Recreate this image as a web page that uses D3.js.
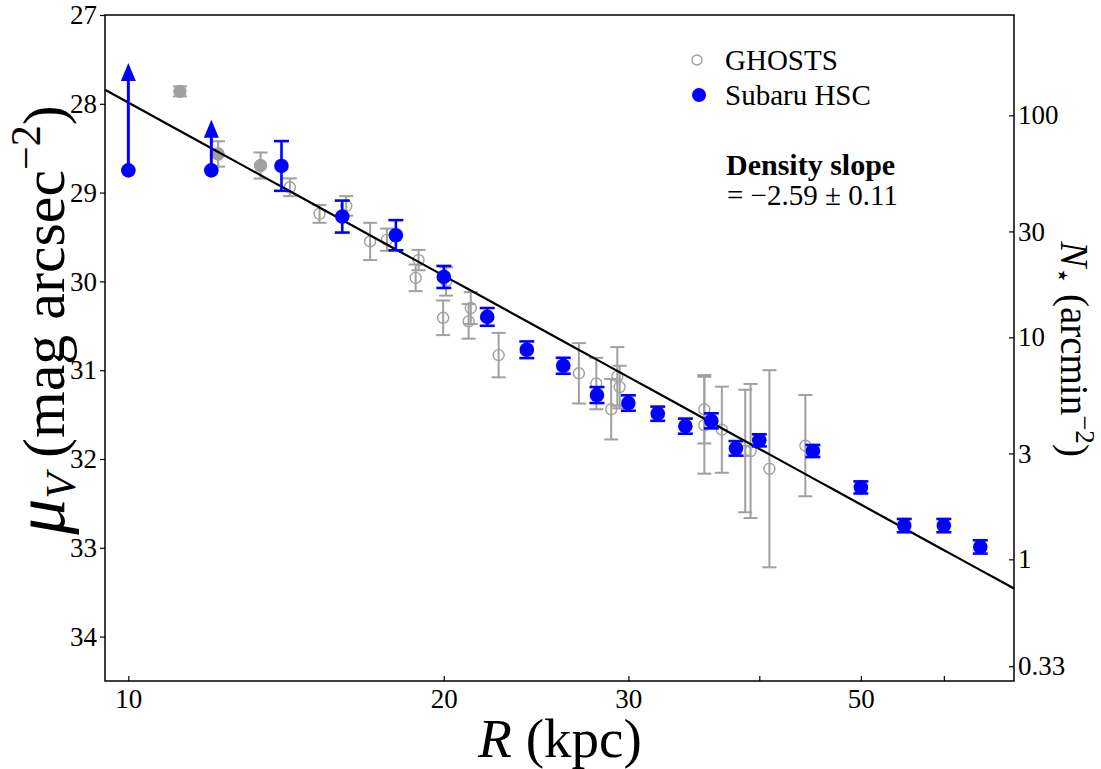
<!DOCTYPE html>
<html>
<head>
<meta charset="utf-8">
<script src="https://cdn.jsdelivr.net/npm/d3@7/dist/d3.min.js"></script>
<style>
body { margin: 0; background: #fff; }
svg text { font-family: "Liberation Serif", "DejaVu Serif", serif; fill: #000; }
</style>
</head>
<body>
<div id="chart"></div>
<script>
// Subaru HSC surface brightness profile (first two are lower limits, drawn as arrows)
var hscR   = [10, 12, 14, 16, 18, 20, 22, 24, 26, 28, 30, 32, 34, 36, 38, 40, 45, 50, 55, 60, 65];
var hscMu  = [28.75, 28.75, 28.70, 29.27, 29.48, 29.95, 30.40, 30.77, 30.95, 31.28, 31.37, 31.49,
              31.63, 31.57, 31.88, 31.79, 31.91, 32.32, 32.75, 32.75, 32.99];
var hscErr = [0, 0, 0.28, 0.18, 0.17, 0.124, 0.10, 0.094, 0.09, 0.09, 0.087, 0.08,
              0.085, 0.085, 0.082, 0.068, 0.068, 0.068, 0.075, 0.075, 0.075];
var hscLimitTop = [27.54, 28.18, null, null, null, null, null, null, null, null, null, null,
                   null, null, null, null, null, null, null, null, null];

// GHOSTS fields (filled = 1 for the three filled grey points)
var ghR      = [11.2, 12.18, 13.37, 14.26, 15.22, 16.14, 17.01, 17.65, 18.92, 18.80, 20.10, 19.97,
                21.22, 21.12, 22.56, 26.91, 27.96, 29.28, 29.43, 28.89, 35.45, 35.45, 36.84,
                38.78, 39.24, 40.90, 44.26];
var ghMu     = [27.86, 28.565, 28.695, 28.94, 29.24, 29.15, 29.55, 29.53, 29.76, 29.96, 30.00, 30.41,
                30.30, 30.45, 30.83, 31.035, 31.15, 31.07, 31.19, 31.44, 31.44, 31.62, 31.67,
                31.91, 31.91, 32.11, 31.85];
var ghErr    = [0.056, 0.143, 0.147, 0.10, 0.10, 0.11, 0.21, 0.125, 0.115, 0.15, 0.16, 0.195,
                0.18, 0.195, 0.25, 0.34, 0.29, 0.33, 0.24, 0.34, 0.385, 0.545, 0.485,
                0.69, 0.755, 1.11, 0.57];
var ghFilled = [1, 1, 1, 0, 0, 0, 0, 0, 0, 0, 0, 0, 0, 0, 0, 0, 0, 0, 0, 0, 0, 0, 0, 0, 0, 0, 0];

// power-law fit
var fitSlope = -2.59;
var fitMu10 = 27.987;

// axes
var muTicks = [27, 28, 29, 30, 31, 32, 33, 34];
var rTicks = [10, 20, 30, 40, 50, 60];
var rLabels = {10: "10", 20: "20", 30: "30", 50: "50"};
var nTicks = [100, 30, 10, 3, 1, 0.33];
var muZero = 33.13;   // mu where N* = 1 arcmin^-2

var W = 1101, H = 769;
var pLeft = 105, pRight = 1014, pTop = 15, pBottom = 681;
var grey = "#a0a0a0", blue = "#0000ff";

var svg = d3.select("#chart").append("svg").attr("width", W).attr("height", H);

var x = d3.scaleLog().domain([9.5, 70]).range([pLeft, pRight]);
var y = d3.scaleLinear().domain([27, 34.5]).range([pTop, pBottom]);
var toN = function(mu){ return Math.pow(10, -0.4 * (mu - muZero)); };
var yN = d3.scaleLog().domain([toN(27), toN(34.5)]).range([pTop, pBottom]);

//---------------------------------------------------------------------
var paintAxes = function(){
    var gl = svg.append("g").attr("transform", "translate(" + pLeft + ",0)")
        .call(d3.axisLeft(y).tickValues(muTicks).tickSize(5).tickPadding(3).tickFormat(d3.format("d")));
    var gb = svg.append("g").attr("transform", "translate(0," + pBottom + ")")
        .call(d3.axisBottom(x).tickValues(rTicks).tickSize(-5).tickPadding(8)
            .tickFormat(function(d){ return rLabels[d] || ""; }));
    var gr = svg.append("g").attr("transform", "translate(" + pRight + ",0)")
        .call(d3.axisRight(yN).tickValues(nTicks).tickSize(-5).tickPadding(4)
            .tickFormat(function(d){ return String(d); }));
    [gl, gb, gr].forEach(function(g){
        g.select(".domain").remove();
        g.attr("font-family", null).attr("font-size", null);
        g.selectAll(".tick line").attr("stroke", "#000").attr("stroke-width", 1.2);
        g.selectAll(".tick text").attr("font-size", 27);
    });

    svg.append("rect").attr("x", pLeft).attr("y", pTop)
        .attr("width", pRight - pLeft).attr("height", pBottom - pTop)
        .attr("fill", "none").attr("stroke", "#000").attr("stroke-width", 1.5);

    // x label
    var xl = svg.append("text").attr("x", 560).attr("y", 757)
        .attr("text-anchor", "middle").attr("font-size", 55);
    xl.append("tspan").attr("font-style", "italic").text("R");
    xl.append("tspan").text(" (kpc)");

    // left label
    var yl = svg.append("text").attr("transform", "translate(64,320) rotate(-90)")
        .attr("text-anchor", "middle").attr("font-size", 60);
    yl.append("tspan").attr("font-style", "italic").attr("font-size", 72).text("μ");
    yl.append("tspan").attr("font-style", "italic").attr("font-size", 42).attr("dy", 11).text("V");
    yl.append("tspan").attr("dy", -11).text(" (mag arcsec");
    yl.append("tspan").attr("font-size", 42).attr("dy", -24).text("−2");
    yl.append("tspan").attr("dy", 24).text(")");

    // right label
    var yr = svg.append("text").attr("transform", "translate(1061,349) rotate(90)")
        .attr("text-anchor", "middle").attr("font-size", 39);
    yr.append("tspan").attr("font-style", "italic").text("N");
    yr.append("tspan").attr("font-size", 27).attr("dy", 7).text("⋆");
    yr.append("tspan").attr("dy", -7).text(" (arcmin");
    yr.append("tspan").attr("font-size", 27).attr("dy", -15).text("−2");
    yr.append("tspan").attr("dy", 15).text(")");
};

//---------------------------------------------------------------------
var paintErrors = function(g, R, mu, err, color, width, cap){
    R.forEach(function(r, i){
        if (!err[i]) return;
        var cx = x(r), y0 = y(mu[i] - err[i]), y1 = y(mu[i] + err[i]);
        g.append("line").attr("x1", cx).attr("x2", cx).attr("y1", y0).attr("y2", y1)
            .attr("stroke", color).attr("stroke-width", width);
        [y0, y1].forEach(function(yy){
            g.append("line").attr("x1", cx - cap).attr("x2", cx + cap).attr("y1", yy).attr("y2", yy)
                .attr("stroke", color).attr("stroke-width", width);
        });
    });
};

//---------------------------------------------------------------------
var paintGhosts = function(){
    var g = svg.append("g");
    paintErrors(g, ghR, ghMu, ghErr, grey, 2, 7);
    ghR.forEach(function(r, i){
        g.append("circle").attr("cx", x(r)).attr("cy", y(ghMu[i]))
            .attr("r", ghFilled[i] ? 6 : 5.5)
            .attr("fill", ghFilled[i] ? grey : "none")
            .attr("stroke", grey).attr("stroke-width", 1.4);
    });
};

//---------------------------------------------------------------------
var paintFit = function(){
    var rs = d3.range(0, 51).map(function(k){ return 9.5 * Math.pow(70 / 9.5, k / 50); });
    var line = d3.line()
        .x(function(r){ return x(r); })
        .y(function(r){ return y(fitMu10 - 2.5 * fitSlope * Math.log10(r / 10)); });
    svg.append("path").datum(rs).attr("d", line)
        .attr("fill", "none").attr("stroke", "#000").attr("stroke-width", 2.2);
};

//---------------------------------------------------------------------
var paintHsc = function(){
    var g = svg.append("g");
    paintErrors(g, hscR, hscMu, hscErr, blue, 2.6, 7.5);
    hscR.forEach(function(r, i){
        if (hscLimitTop[i] === null) return;
        var cx = x(r), tip = y(hscLimitTop[i]);
        g.append("line").attr("x1", cx).attr("x2", cx).attr("y1", y(hscMu[i])).attr("y2", tip + 16)
            .attr("stroke", blue).attr("stroke-width", 3);
        g.append("polygon")
            .attr("points", [cx - 7.5, tip + 18, cx, tip, cx + 7.5, tip + 18].join(","))
            .attr("fill", blue);
    });
    hscR.forEach(function(r, i){
        g.append("circle").attr("cx", x(r)).attr("cy", y(hscMu[i])).attr("r", 7.3).attr("fill", blue);
    });
};

//---------------------------------------------------------------------
var paintLegend = function(){
    svg.append("circle").attr("cx", 697).attr("cy", 60).attr("r", 5)
        .attr("fill", "none").attr("stroke", grey).attr("stroke-width", 1.4);
    svg.append("text").attr("x", 725).attr("y", 70).attr("font-size", 29).text("GHOSTS");
    svg.append("circle").attr("cx", 699).attr("cy", 95).attr("r", 7).attr("fill", blue);
    svg.append("text").attr("x", 725).attr("y", 105).attr("font-size", 29).text("Subaru HSC");

    svg.append("text").attr("x", 726).attr("y", 175).attr("font-size", 30)
        .attr("font-weight", "bold").text("Density slope");
    svg.append("text").attr("x", 727).attr("y", 205).attr("font-size", 29)
        .text("= −" + Math.abs(fitSlope).toFixed(2) + " ± 0.11");
};

paintAxes();
paintGhosts();
paintFit();
paintHsc();
paintLegend();
</script>
</body>
</html>
